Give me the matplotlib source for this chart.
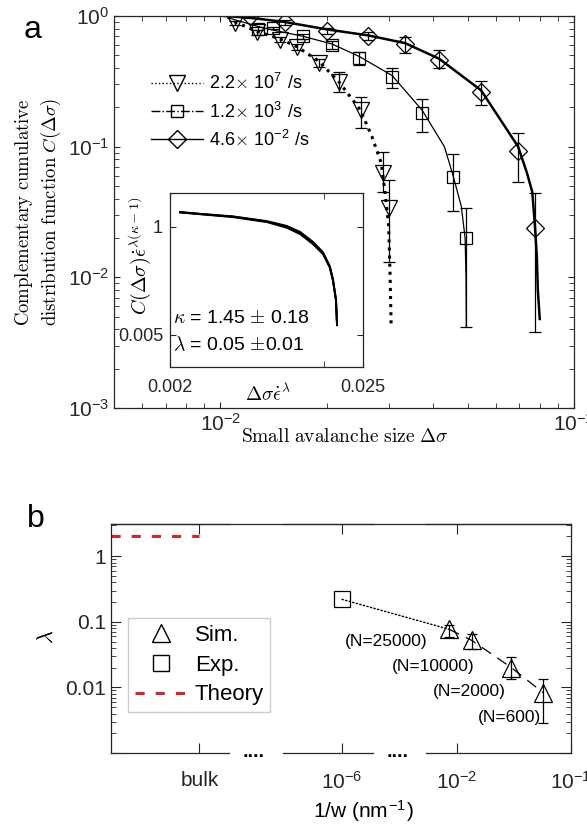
# -*- coding: utf-8 -*-

import numpy as np
import matplotlib
matplotlib.use('Agg')
import matplotlib.pyplot as plt
from matplotlib.lines import Line2D
from matplotlib.patches import ConnectionPatch
from matplotlib.ticker import LogLocator, NullLocator, NullFormatter, FixedLocator, FixedFormatter

plt.rcParams['font.family'] = ['Liberation Sans', 'DejaVu Sans']
plt.rcParams['mathtext.fontset'] = 'cm'
plt.rcParams['font.size'] = 14
plt.rcParams['axes.linewidth'] = 0.9
plt.rcParams['axes.edgecolor'] = '#262626'
plt.rcParams['xtick.color'] = '#262626'
plt.rcParams['ytick.color'] = '#262626'

# ---- panel a : complementary cumulative distributions
rate_labels = [r'2.2$\times$ 10$^{\mathdefault{7}}$ /s',
               r'1.2$\times$ 10$^{\mathdefault{3}}$ /s',
               r'4.6$\times$ 10$^{\mathdefault{-2}}$ /s']

tri_line_x = [0.0105, 0.0110, 0.0127, 0.0147, 0.0165, 0.0190, 0.0217, 0.0249, 0.0268, 0.0285, 0.0292, 0.0299, 0.0302, 0.0304]
tri_line_y = [0.98, 0.90, 0.76, 0.67, 0.58, 0.45, 0.31, 0.19, 0.12, 0.075, 0.045, 0.025, 0.010, 0.0042]
sq_line_x = [0.0105, 0.0128, 0.0141, 0.0171, 0.0207, 0.0247, 0.0306, 0.0372, 0.0430, 0.0455, 0.0480, 0.0492, 0.0495, 0.0496]
sq_line_y = [0.97, 0.83, 0.78, 0.70, 0.61, 0.49, 0.35, 0.19, 0.10, 0.060, 0.035, 0.020, 0.010, 0.0042]
dia_line_x = [0.0103, 0.0121, 0.0152, 0.0200, 0.0262, 0.0333, 0.0416, 0.0546, 0.0695, 0.0736, 0.0762, 0.0776, 0.0785, 0.0790, 0.0800]
dia_line_y = [1.0, 0.97, 0.90, 0.79, 0.71, 0.62, 0.47, 0.27, 0.10, 0.063, 0.045, 0.024, 0.0145, 0.0081, 0.0048]

tri_x = [0.0110, 0.0127, 0.0147, 0.0165, 0.0190, 0.0217, 0.0249, 0.0288, 0.0299]
tri_y = [0.88, 0.75, 0.66, 0.58, 0.44, 0.31, 0.19, 0.063, 0.034]
tri_lo = [0.85, 0.72, 0.63, 0.55, 0.41, 0.26, 0.14, 0.045, 0.013]
tri_hi = [0.91, 0.78, 0.69, 0.61, 0.47, 0.37, 0.24, 0.091, 0.056]

sq_x = [0.0128, 0.0141, 0.0171, 0.0207, 0.0247, 0.0306, 0.0372, 0.0455, 0.0495]
sq_y = [0.80, 0.81, 0.70, 0.60, 0.48, 0.34, 0.18, 0.059, 0.020]
sq_lo = [0.78, 0.79, 0.67, 0.56, 0.42, 0.28, 0.13, 0.032, 0.0042]
sq_hi = [0.82, 0.83, 0.73, 0.64, 0.53, 0.40, 0.23, 0.088, 0.034]

dia_x = [0.0121, 0.0152, 0.0200, 0.0262, 0.0333, 0.0416, 0.0546, 0.0695, 0.0776]
dia_y = [1.0, 0.90, 0.77, 0.70, 0.61, 0.46, 0.26, 0.092, 0.024]
dia_lo = [0.97, 0.86, 0.73, 0.65, 0.52, 0.40, 0.21, 0.054, 0.0038]
dia_hi = [1.03, 0.94, 0.81, 0.75, 0.69, 0.55, 0.32, 0.128, 0.044]

# inset : collapsed curves
col_x = [0.00228, 0.00296, 0.00456, 0.00711, 0.00924, 0.0110, 0.0130, 0.0148, 0.0162, 0.01687, 0.01755, 0.0178]
col_y1 = [2.06, 1.89, 1.66, 1.30, 1.01, 0.745, 0.456, 0.279, 0.140, 0.074, 0.0278, 0.0082]
col_y2 = [2.04, 1.87, 1.62, 1.27, 0.96, 0.70, 0.43, 0.265, 0.135, 0.072, 0.0275, 0.0080]
col_y3 = [2.08, 1.91, 1.68, 1.33, 1.05, 0.78, 0.48, 0.290, 0.145, 0.076, 0.0282, 0.0084]

# ---- panel b : lambda vs 1/w
theory_lam = 2.0
exp_x = [1e-6]
exp_y = [0.22]
sim_x = [0.0085, 0.0135, 0.030, 0.057]
sim_y = [0.077, 0.052, 0.020, 0.0083]
sim_lo = [0.058, 0.039, 0.0133, 0.0029]
sim_hi = [0.088, 0.065, 0.029, 0.0133]
sim_names = ['(N=25000)', '(N=10000)', '(N=2000)', '(N=600)']
sim_offsets = [(-45, -9), (-28, -19), (-30, -17), (-24, -18)]

W, H = 587, 825
fig = plt.figure(figsize=(W / 100, H / 100), dpi=100)


def box(l, t, r, b):
    return [l / W, 1 - b / H, (r - l) / W, (b - t) / H]


ax = fig.add_axes(box(114, 16, 574, 408))
ax.set_xscale('log')
ax.set_yscale('log')
ax.plot(tri_line_x, tri_line_y, ':', color='k', lw=2.2)
ax.plot(sq_line_x, sq_line_y, '-', color='k', lw=0.9)
ax.plot(dia_line_x, dia_line_y, '-', color='k', lw=1.8)
for xs, ys, lo, hi, mk, ms in [(tri_x, tri_y, tri_lo, tri_hi, 'v', 11),
                               (sq_x, sq_y, sq_lo, sq_hi, 's', 8.5),
                               (dia_x, dia_y, dia_lo, dia_hi, 'D', 9)]:
    ys = np.array(ys)
    err = [ys - np.array(lo), np.array(hi) - ys]
    ax.errorbar(xs, ys, yerr=err, fmt=mk, mfc='none', mec='k', mew=0.9, ms=ms,
                ecolor='k', elinewidth=0.9, capsize=4, capthick=0.9)
ax.set_xlim(0.005, 0.1)
ax.set_ylim(1e-3, 1)
ax.xaxis.set_minor_locator(LogLocator(subs=np.arange(2, 10)))
ax.yaxis.set_minor_locator(LogLocator(subs=np.arange(2, 10)))
ax.xaxis.set_minor_formatter(NullFormatter())
ax.tick_params(which='both', direction='in', top=True, right=True)
ax.tick_params(which='major', length=4.5, labelsize=15)
ax.tick_params(which='minor', length=3.5)

handles = [Line2D([], [], ls=':', lw=1, color='k', marker='v', mfc='none', mec='k', ms=11),
           Line2D([], [], ls='-.', lw=1, color='k', marker='s', mfc='none', mec='k', ms=8.5),
           Line2D([], [], ls='-', lw=1, color='k', marker='D', mfc='none', mec='k', ms=9)]
ax.legend(handles, rate_labels, loc='upper left', bbox_to_anchor=(0.065, 0.872), frameon=False,
          fontsize=13, handlelength=2.9, handletextpad=0.3, labelspacing=0.45, borderaxespad=0)

fig.text(345 / W, 1 - 437 / H, r'$\mathrm{Small\ avalanche\ size}\ \Delta\sigma$',
         ha='center', va='center', fontsize=14)
fig.text(38 / W, 1 - 212 / H,
         r'$\mathrm{Complementary\ cumulative}$' + '\n' + r'$\mathrm{distribution\ function}\ C(\Delta\sigma)$',
         ha='center', va='center', rotation=90, fontsize=13.5, linespacing=1.2)
fig.text(33 / W, 1 - 30 / H, 'a', ha='center', va='center', fontsize=23)

# inset
axi = fig.add_axes(box(170, 193, 363, 367))
axi.set_xscale('log')
axi.set_yscale('log')
axi.plot(col_x, col_y1, '-', color='k', lw=1.4)
axi.plot(col_x, col_y2, '-', color='k', lw=1.4)
axi.plot(col_x, col_y3, '-', color='k', lw=1.4)
axi.set_xlim(0.002, 0.025)
axi.set_ylim(1.03e-3, 5.3)
axi.xaxis.set_major_locator(FixedLocator([0.002, 0.025]))
axi.xaxis.set_major_formatter(FixedFormatter(['0.002', '0.025']))
axi.xaxis.set_minor_locator(FixedLocator([0.015]))
axi.xaxis.set_minor_formatter(NullFormatter())
axi.yaxis.set_major_locator(FixedLocator([0.005, 1]))
axi.yaxis.set_major_formatter(FixedFormatter(['0.005', '1']))
axi.yaxis.set_minor_locator(NullLocator())
axi.tick_params(which='both', direction='in', top=True, right=True, labelsize=13, length=4.5)
axi.tick_params(axis='x', pad=9)
axi.tick_params(axis='y', pad=5)
axi.text(0.508, -0.16, r'$\Delta\sigma\dot{\epsilon}^{\lambda}$', transform=axi.transAxes,
         ha='center', va='center', fontsize=14)
axi.text(-0.155, 0.64, r'$C(\Delta\sigma)\dot{\epsilon}^{\lambda(\kappa-1)}$', transform=axi.transAxes,
         ha='center', va='center', rotation=90, fontsize=14.5)
axi.text(0.016, 0.28, r'$\kappa$ = 1.45 $\pm$ 0.18', transform=axi.transAxes,
         ha='left', va='center', fontsize=14)
axi.text(0.016, 0.125, r'$\lambda$ = 0.05 $\pm$0.01', transform=axi.transAxes,
         ha='left', va='center', fontsize=14)

# ---- panel b, broken x axis in three segments
axbg = fig.add_axes(box(111, 524, 571, 753))
axbg.set_zorder(-1)
axbg.patch.set_visible(False)
axbg.set_xticks([])
axbg.set_yticks([])
for s in ['left', 'right', 'bottom']:
    axbg.spines[s].set_visible(False)

ax1 = fig.add_axes(box(111, 524, 229, 753))
ax2 = fig.add_axes(box(283, 524, 373, 753))
ax3 = fig.add_axes(box(426, 524, 571, 753))
for a in [ax1, ax2, ax3]:
    a.set_yscale('log')
    a.set_ylim(1e-3, 3.1)
    a.patch.set_visible(False)
    a.yaxis.set_major_locator(FixedLocator([1e-3, 1e-2, 1e-1, 1]))
    a.yaxis.set_minor_locator(LogLocator(subs=np.arange(2, 10)))
    a.yaxis.set_minor_formatter(NullFormatter())
    a.tick_params(which='major', direction='in', length=7, labelsize=15, top=True)
    a.tick_params(which='minor', direction='in', length=3.5)
    a.tick_params(axis='x', pad=13)

ax1.set_xlim(-3, 1)
ax1.plot([-3, 0], [theory_lam, theory_lam], color='#d62728', lw=2.2, dashes=(3, 3.6))
ax1.xaxis.set_major_locator(FixedLocator([0]))
ax1.xaxis.set_major_formatter(FixedFormatter(['bulk']))
ax1.yaxis.set_major_formatter(FixedFormatter(['', '0.01', '0.1', '1']))
ax1.spines['right'].set_visible(False)
ax1.tick_params(axis='y', right=False)

ax2.set_xscale('log')
ax2.set_xlim(10 ** -6.518, 10 ** -5.728)
ax2.plot(exp_x, exp_y, 's', mfc='none', mec='k', mew=0.9, ms=11)
ax2.xaxis.set_major_locator(FixedLocator([1e-6]))
ax2.xaxis.set_minor_locator(NullLocator())
ax2.spines['left'].set_visible(False)
ax2.spines['right'].set_visible(False)
ax2.tick_params(axis='y', which='both', left=False, right=False, labelleft=False)

ax3.set_xscale('log')
ax3.set_xlim(10 ** -2.272, 0.1)
ax3.plot(sim_x, sim_y, color='k', lw=0.9, dashes=(9, 6))
sy = np.array(sim_y)
ax3.errorbar(sim_x, sy, yerr=[sy - np.array(sim_lo), np.array(sim_hi) - sy], fmt='^',
             mfc='none', mec='k', mew=0.9, ms=13, ecolor='k', elinewidth=0.9, capsize=3.5)
for x, y, name, off in zip(sim_x, sim_y, sim_names, sim_offsets):
    ax3.annotate(name, xy=(x, y), xytext=off, textcoords='offset points',
                 ha='center', va='center', fontsize=12.5, annotation_clip=False)
ax3.xaxis.set_major_locator(FixedLocator([1e-2, 1e-1]))
ax3.xaxis.set_minor_locator(NullLocator())
ax3.spines['left'].set_visible(False)
ax3.tick_params(axis='y', which='both', left=False, right=True, labelleft=False)

link = ConnectionPatch(xyA=(exp_x[0], exp_y[0]), coordsA=ax2.transData,
                       xyB=(sim_x[0], sim_y[0]), coordsB=ax3.transData,
                       ls=':', color='k', lw=1.0)
fig.add_artist(link)

fig.text(254 / W, 1 - 757 / H, '....', ha='center', va='baseline', fontsize=14, fontweight='bold')
fig.text(398 / W, 1 - 757 / H, '....', ha='center', va='baseline', fontsize=14, fontweight='bold')

leg_handles = [Line2D([], [], ls='none', marker='^', mfc='none', mec='k', ms=13),
               Line2D([], [], ls='none', marker='s', mfc='none', mec='k', ms=11),
               Line2D([], [], color='#d62728', lw=2.2, dashes=(3, 3.6))]
ax1.legend(leg_handles, ['Sim.', 'Exp.', 'Theory'], loc='upper left',
           bbox_to_anchor=(128 / W, 1 - 618 / H), bbox_transform=fig.transFigure,
           borderaxespad=0, fontsize=16, handlelength=2.4, handletextpad=0.3,
           labelspacing=0.4, borderpad=0.3, fancybox=False, edgecolor='#cccccc', framealpha=1)

fig.text(363 / W, 1 - 812 / H, r'1/w (nm$^{\mathdefault{-1}}$)', ha='center', va='center', fontsize=15)
fig.text(47 / W, 1 - 637 / H, r'$\lambda$', ha='center', va='center', rotation=90, fontsize=16)
fig.text(36 / W, 1 - 519 / H, 'b', ha='center', va='center', fontsize=23)

fig.savefig('out.png', dpi=100)
